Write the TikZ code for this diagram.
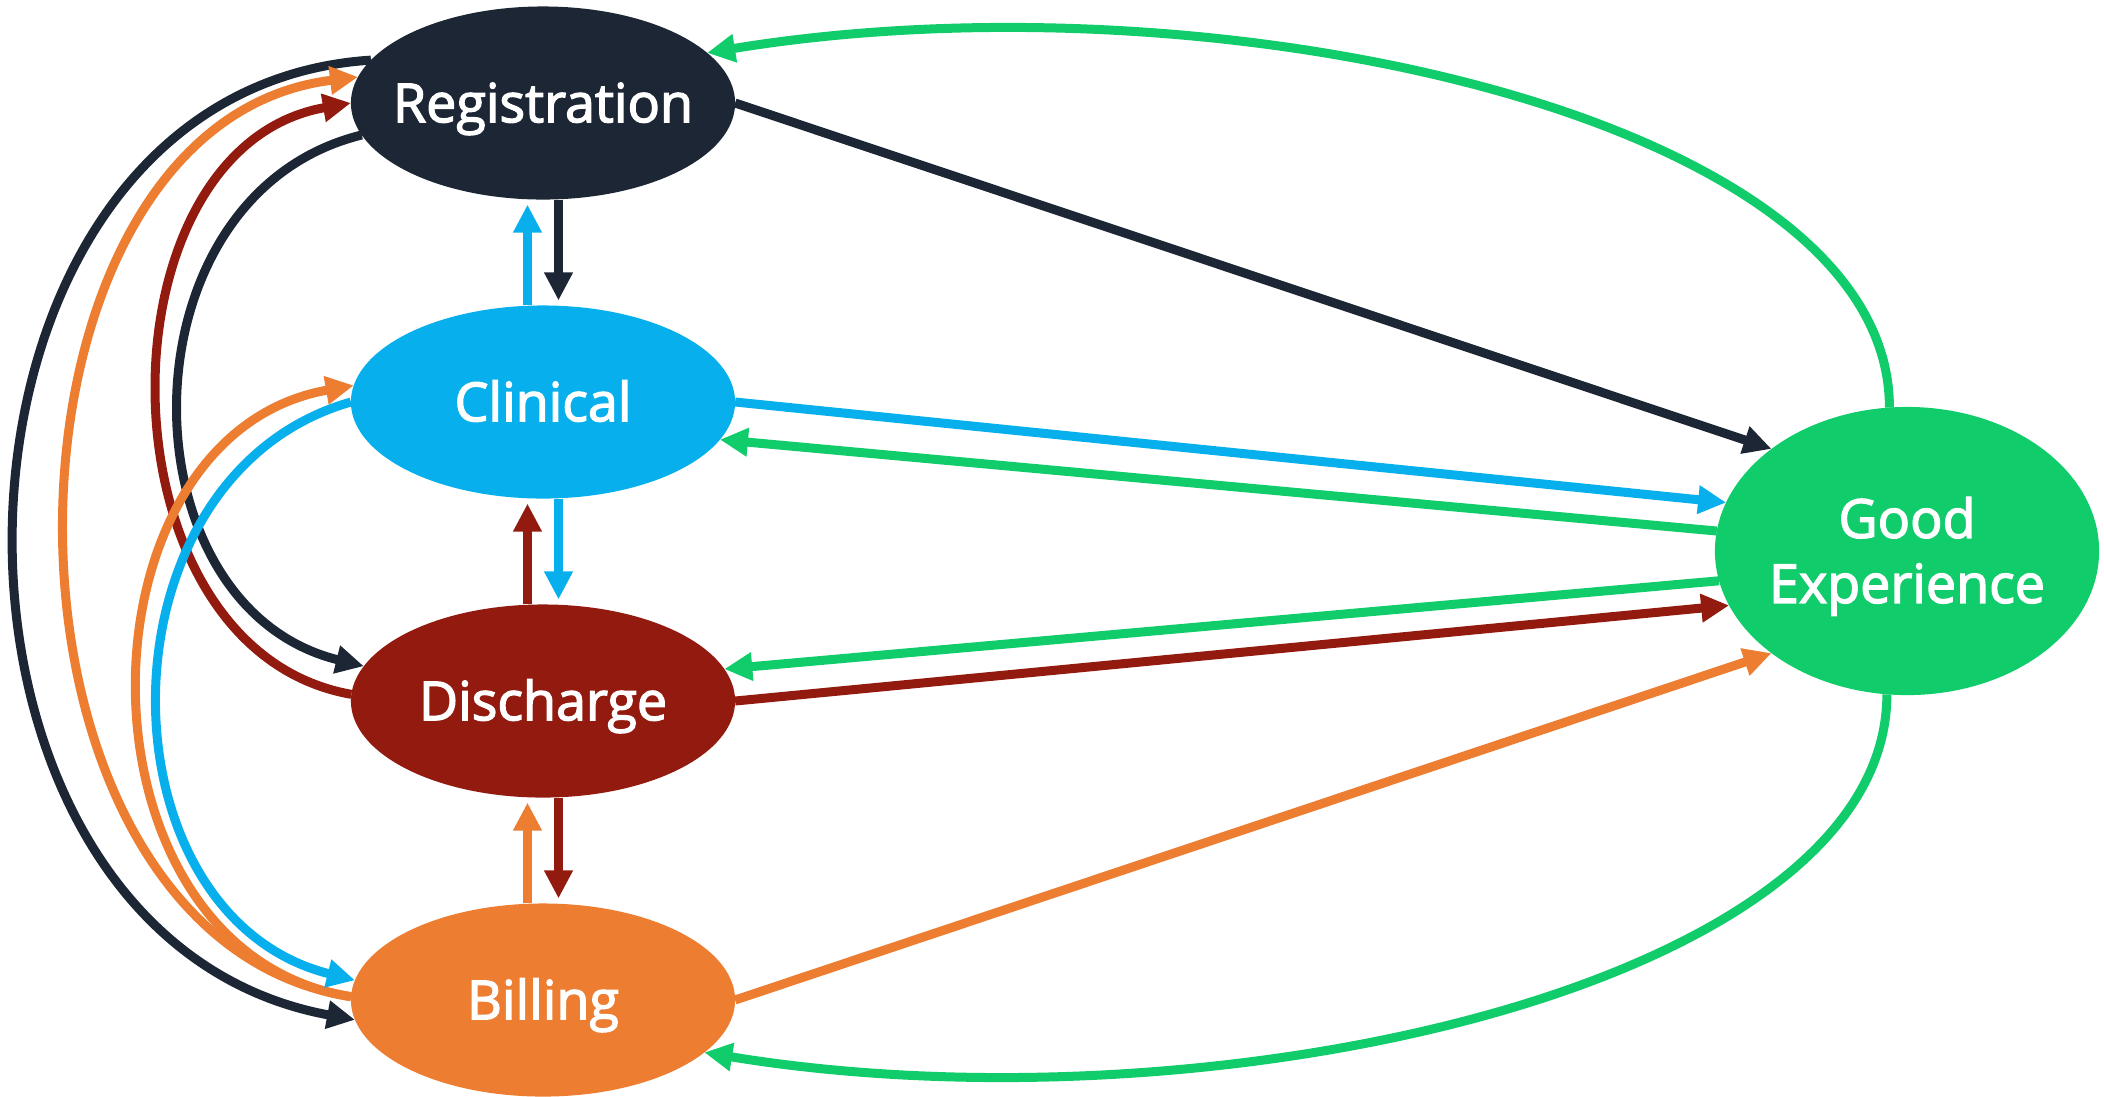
\documentclass[tikz,border=0pt]{standalone}
\usepackage{fontspec}
\newfontfamily\lbl{Open Sans}[FakeBold=2.5]
\usetikzlibrary{shapes.geometric,arrows.meta}
\definecolor{cNavy}{HTML}{1C2634}
\definecolor{cCyan}{HTML}{07B0EC}
\definecolor{cRed}{HTML}{931A0E}
\definecolor{cOrange}{HTML}{ED7D31}
\definecolor{cGreen}{HTML}{10CC6B}
\begin{document}
\begin{tikzpicture}[x=0.01cm,y=-0.01cm,
  ell/.style={ellipse,inner sep=0pt,outer sep=0pt,minimum width=3.84cm,minimum height=1.93cm,
    text=white,font=\lbl\fontsize{15.3}{18.5}\selectfont},
  onecapline/.style={text height=10.9pt,text depth=0pt},
  con/.style={line width=0.09cm,-{Triangle[length=0.28cm,width=0.27cm]}},
  vcon/.style={con,shorten >=0.05cm}]
\path[use as bounding box] (0,0) rectangle (2104,1096);
% nodes
\node[ell,onecapline,fill=cNavy]   (reg) at (543,103)  {\makebox[0pt]{Registration}};
\node[ell,onecapline,fill=cCyan]   (cli) at (543,402)  {\makebox[0pt]{Clinical}};
\node[ell,onecapline,fill=cRed]    (dis) at (543,701)  {\makebox[0pt]{Discharge}};
\node[ell,onecapline,fill=cOrange] (bil) at (543,1000) {\makebox[0pt]{Billing}};
\node[ell,fill=cGreen,minimum height=2.88cm,text height=29.5pt,text depth=0pt] (ge) at (1907,551)
  {\makebox[0pt]{\begin{tabular}[b]{@{}c@{}}Good\\Experience\end{tabular}}};
% vertical connectors
\draw[vcon,cNavy]   ([xshift=0.155cm]reg.south)  -- ([xshift=0.155cm]cli.north);
\draw[vcon,cCyan]   ([xshift=-0.155cm]cli.north) -- ([xshift=-0.155cm]reg.south);
\draw[vcon,cCyan]   ([xshift=0.155cm]cli.south)  -- ([xshift=0.155cm]dis.north);
\draw[vcon,cRed]    ([xshift=-0.155cm]dis.north) -- ([xshift=-0.155cm]cli.south);
\draw[vcon,cRed]    ([xshift=0.155cm]dis.south)  -- ([xshift=0.155cm]bil.north);
\draw[vcon,cOrange] ([xshift=-0.155cm]bil.north) -- ([xshift=-0.155cm]dis.south);
% right side connectors
\draw[con,cNavy]   (reg.east) -- (ge.143.2);
\draw[con,cCyan]   (cli.east) -- (ge.165.1);
\draw[con,cGreen]  (ge.174.3) -- (cli.348.3);
\draw[con,cGreen]  (ge.189.7) -- (dis.10);
\draw[con,cRed]    (dis.east) -- (ge.197.4);
\draw[con,cOrange] (bil.east) -- (ge.217.1);
\draw[con,cGreen]  (ge.97.6) .. controls +(0,-292) and +(506,-83) .. (reg.17.6);
\draw[con,cGreen]  (ge.262.4) .. controls +(0,292) and +(506,83) .. (bil.342.5);
% left side connectors
\draw[con,cNavy]   (reg.190.6) .. controls +(-244,60) and +(-244,-60) .. (dis.169.8);
\draw[con,cRed]    (dis.178.5) .. controls +(-257,-45) and +(-257,45) .. (reg.180);
\draw[con,cNavy]   (reg.166.5) .. controls +(-463,30) and +(-463,-85) .. (bil.186);
\draw[con,cOrange] (bil.179.1) .. controls +(-385,-60) and +(-385,47) .. (reg.172.5);
\draw[con,cOrange] (bil.179.1) .. controls +(-285,-45) and +(-285,50) .. (cli.175.3);
\draw[con,cCyan]   (cli.180.9) .. controls +(-259,74) and +(-259,-65) .. (bil.174.9);
\end{tikzpicture}
\end{document}
